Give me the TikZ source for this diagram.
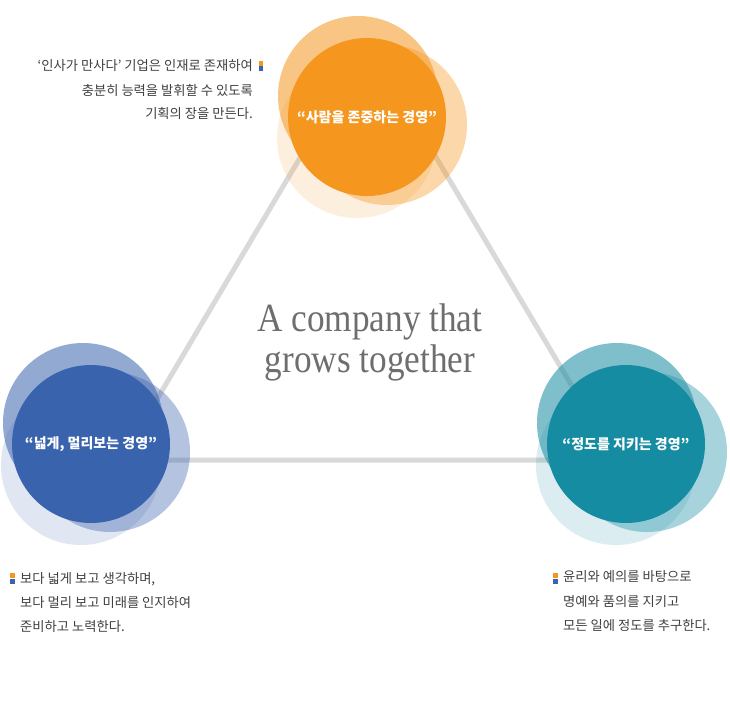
\documentclass[tikz,border=0pt]{standalone}
\usepackage{fontspec}
\newfontfamily\kr{Noto Sans CJK KR}
\newfontfamily\gara[FakeStretch=0.88]{Liberation Serif}
\definecolor{org}{HTML}{F5971F}
\definecolor{blu}{HTML}{3A63AE}
\definecolor{tea}{HTML}{168CA3}
\definecolor{lin}{HTML}{D9D9D9}
\definecolor{txt}{HTML}{404040}
\definecolor{mid}{HTML}{6E6E6E}
\tikzset{
  disc/.style={circle, inner sep=0pt, minimum size=158pt, draw=none},
  halo/.style={circle, inner sep=0pt, minimum size=160pt, draw=none},
  haloA/.style={halo, fill opacity=0.55},
  haloB/.style={halo, fill opacity=0.38},
  haloC/.style={halo, fill opacity=0.15},
  title/.style={font=\kr\bfseries\fontsize{14}{16}\selectfont, text=white},
  note/.style={font=\kr\fontsize{13.3}{15}\selectfont, text=txt, inner sep=0pt},
  bulletbox/.style={inner sep=0pt, minimum width=4.5pt, minimum height=5pt}
}
\begin{document}
\begin{tikzpicture}[x=1pt, y=-1pt]
\fill[white] (0,0) rectangle (730,712);
\useasboundingbox (0,0) rectangle (730,712);
% triangle
\coordinate (ta) at (368,43);
\coordinate (tl) at (121,460);
\coordinate (tr) at (616,460);
\draw[lin, line width=5pt, line join=round] (ta) -- (tl) -- (tr) -- cycle;
% orange cluster
\node[haloC, fill=org] (oc) at (357,138) {};
\node[haloB, fill=org] (ob) at (387,125) {};
\node[haloA, fill=org] (oa) at (358,96) {};
\node[disc, fill=org, title] (om) at (367,117) {“사람을 존중하는 경영”};
% blue cluster
\node[haloC, fill=blu] (bc) at (81,465) {};
\node[haloB, fill=blu] (bb) at (110,452) {};
\node[haloA, fill=blu] (ba) at (83,423) {};
\node[disc, fill=blu, title] (bm) at (91,444) {“넓게, 멀리보는 경영”};
% teal cluster
\node[haloC, fill=tea] (tc) at (616,465) {};
\node[haloB, fill=tea] (tb) at (647,452) {};
\node[haloA, fill=tea] (tta) at (617,423) {};
\node[disc, fill=tea, title] (tm) at (626,444) {“정도를 지키는 경영”};
% centre text
\node[font=\gara\fontsize{40}{40}\selectfont, text=mid, inner sep=0pt, anchor=base] (c1) at (370,331) {A company that};
\node[font=\gara\fontsize{40}{40}\selectfont, text=mid, inner sep=0pt, anchor=base] (c2) at (370,372) {grows together};
% top-left note
\node[note, anchor=base east] (n1) at (253,70.5) {‘인사가 만사다’ 기업은 인재로 존재하여};
\node[note, anchor=base east] (n2) at (253,95) {충분히 능력을 발휘할 수 있도록};
\node[note, anchor=base east] (n3) at (253,118) {기획의 장을 만든다.};
\node[bulletbox, fill=org, anchor=north west] (k1) at (258.5,60.5) {};
\node[bulletbox, fill=blu, anchor=north] (k1b) at (k1.south) {};
% bottom-left note
\node[note, anchor=base west] (l1) at (20,583) {보다 넓게 보고 생각하며,};
\node[note, anchor=base west] (l2) at (20,607.5) {보다 멀리 보고 미래를 인지하여};
\node[note, anchor=base west] (l3) at (20,631.5) {준비하고 노력한다.};
\node[bulletbox, fill=org, anchor=north west] (k2) at (10,573) {};
\node[bulletbox, fill=blu, anchor=north] (k2b) at (k2.south) {};
% bottom-right note
\node[note, anchor=base west] (r1) at (563,581.5) {윤리와 예의를 바탕으로};
\node[note, anchor=base west] (r2) at (563,606.5) {명예와 품의를 지키고};
\node[note, anchor=base west] (r3) at (563,630.5) {모든 일에 정도를 추구한다.};
\node[bulletbox, fill=org, anchor=north west] (k3) at (553,573) {};
\node[bulletbox, fill=blu, anchor=north] (k3b) at (k3.south) {};
\end{tikzpicture}
\end{document}
